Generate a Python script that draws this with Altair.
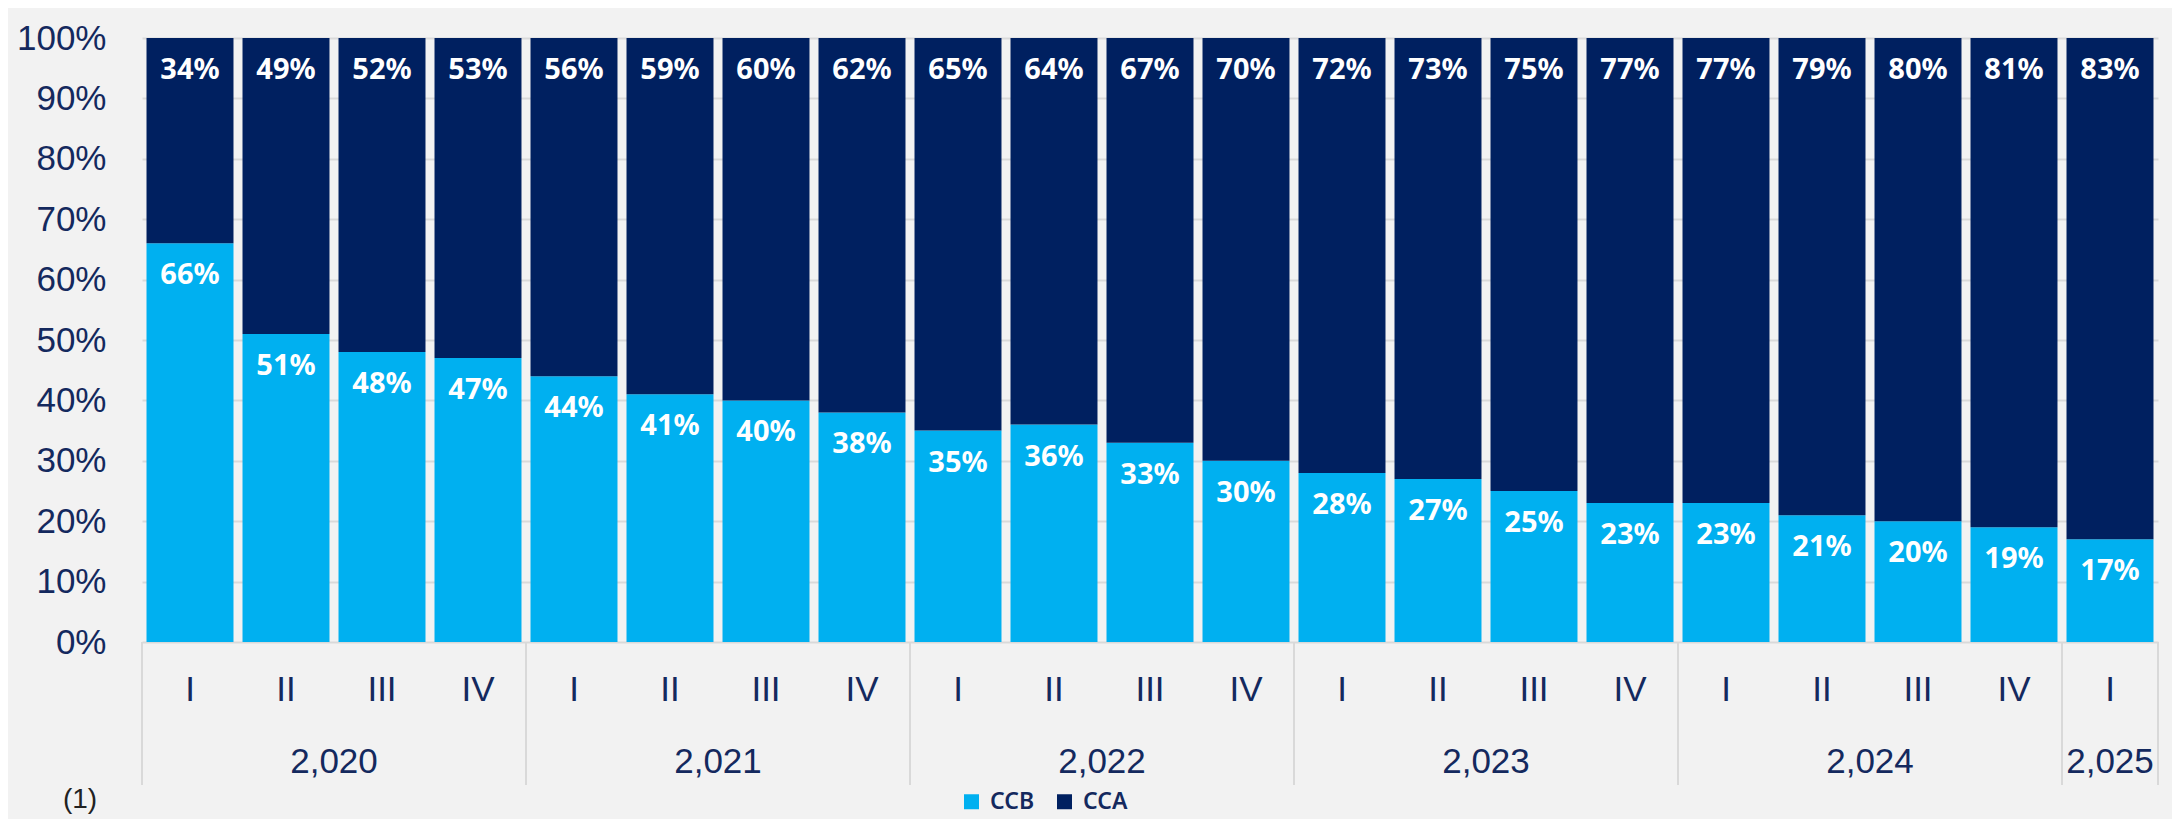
import altair as alt
import pandas as pd

quarters = ["I", "II", "III", "IV"] * 5 + ["I"]
years = [2020] * 4 + [2021] * 4 + [2022] * 4 + [2023] * 4 + [2024] * 4 + [2025]
ccb = [66, 51, 48, 47, 44, 41, 40, 38, 35, 36, 33, 30, 28, 27, 25, 23, 23, 21, 20, 19, 17]
cca = [34, 49, 52, 53, 56, 59, 60, 62, 65, 64, 67, 70, 72, 73, 75, 77, 77, 79, 80, 81, 83]
series = ["CCB", "CCA"]
colors = ["#00B0F0", "#002060"]
y_ticks = [i / 10 for i in range(11)]

NAVY = "#14295E"
GRID = "#D9D9D9"

rows = []
keys = []
for i, (q, yr, b, a) in enumerate(zip(quarters, years, ccb, cca)):
    key = f"{yr}-{q}"
    keys.append(key)
    rows.append(dict(idx=i, key=key, quarter=q, year=yr, series="CCB", ord=0, value=b / 100))
    rows.append(dict(idx=i, key=key, quarter=q, year=yr, series="CCA", ord=1, value=a / 100))
df = pd.DataFrame(rows)

W, H = 2016, 604

xband = alt.X("key:N", sort=keys,
              scale=alt.Scale(paddingInner=0.094, paddingOuter=0.047), axis=None)
yscale = alt.Scale(domain=[0, 1], nice=False)
xq_scale = alt.Scale(domain=[0, len(keys)], nice=False, zero=False)

base = alt.Chart(df)
stacked = base.transform_stack(stack="value", groupby=["key"], as_=["y0", "y1"],
                               sort=[alt.SortField("ord", order="ascending")])

bars = stacked.mark_bar().encode(
    x=xband,
    y=alt.Y("y0:Q", scale=yscale,
            axis=alt.Axis(values=y_ticks, format=".0%", title=None, domain=False,
                          ticks=False, labelPadding=36, labelFontSize=35,
                          labelFont="Liberation Sans", labelColor=NAVY,
                          grid=True, gridColor=GRID, gridWidth=2)),
    y2="y1:Q",
    color=alt.Color("series:N", scale=alt.Scale(domain=series, range=colors),
                    legend=alt.Legend(orient="none", legendX=818, legendY=752,
                                      direction="horizontal", title=None,
                                      symbolType="square", symbolSize=225,
                                      symbolStrokeWidth=0, labelFontSize=23,
                                      labelFont="Noto Sans", labelFontWeight=600,
                                      labelColor=NAVY, labelOffset=7,
                                      columnPadding=18)),
)

bar_labels = stacked.mark_text(dy=32, baseline="middle", align="center",
                               font="Noto Sans", fontWeight="bold", fontSize=29,
                               color="white").encode(
    x=xband,
    y=alt.Y("y1:Q", scale=yscale),
    text=alt.Text("value:Q", format=".0%"),
)

quarter_labels = base.transform_filter(alt.datum.series == "CCB").mark_text(
    baseline="middle", align="center", font="Liberation Sans", fontSize=35, color=NAVY
).encode(
    x=xband,
    y=alt.value(652),
    text="quarter:N",
)

groups = base.transform_filter(alt.datum.series == "CCB").transform_aggregate(
    mn="min(idx)", mx="max(idx)", groupby=["year"]
).transform_calculate(mid="(datum.mn + datum.mx + 1) / 2", end="datum.mx + 1")

sep_left = groups.mark_rule(color=GRID, strokeWidth=2).encode(
    x=alt.X("mn:Q", scale=xq_scale, axis=None),
    y=alt.value(H),
    y2=alt.value(747),
)
sep_right = groups.mark_rule(color=GRID, strokeWidth=2).encode(
    x=alt.X("end:Q", scale=xq_scale, axis=None),
    y=alt.value(H),
    y2=alt.value(747),
)
year_labels = groups.mark_text(baseline="middle", align="center",
                               font="Liberation Sans", fontSize=35, color=NAVY).encode(
    x=alt.X("mid:Q", scale=xq_scale, axis=None),
    y=alt.value(724),
    text=alt.Text("year:Q", format=","),
)

note = alt.Chart(pd.DataFrame({"t": ["(1)"]})).mark_text(
    baseline="top", align="center", font="Liberation Sans", fontSize=28, color="#222222"
).encode(x=alt.value(-62), y=alt.value(748), text="t:N")

chart = alt.layer(
    bars, bar_labels, quarter_labels, sep_left, sep_right, year_labels, note
).resolve_scale(x="independent").properties(
    width=W, height=H,
    autosize=alt.AutoSizeParams(type="none"),
    padding={"left": 134, "top": 30, "right": 14, "bottom": 177},
    background="#F2F2F2",
).configure_view(stroke=None)

chart.save("out.html", embed_options={"renderer": "svg", "actions": False})
